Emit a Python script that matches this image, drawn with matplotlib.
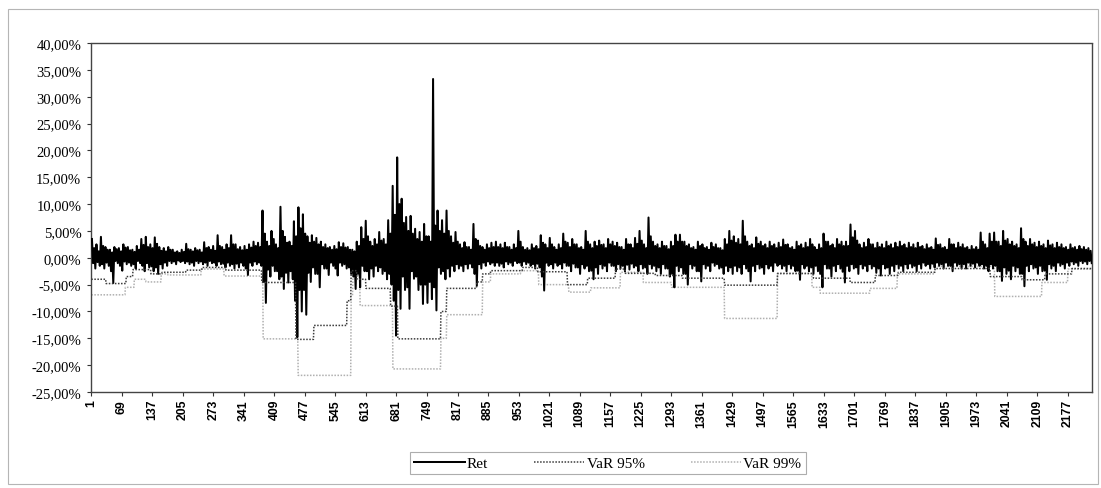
import matplotlib.pyplot as plt
import numpy as np
from matplotlib.patches import Rectangle

plt.rcParams['font.family'] = ['Liberation Serif', 'DejaVu Serif']

n_obs = 2230
block = 10

ret_hi = [3.5, 2.5, 3.9, 2.0, 1.5, 2.0, 1.8, 2.5, 2.0, 1.5,
          2.2, 3.5, 3.9, 2.5, 3.8, 2.0, 1.8, 2.0, 1.5, 1.2,
          1.5, 2.6, 1.5, 1.8, 1.5, 2.9, 2.0, 2.2, 4.2, 2.0,
          2.5, 4.2, 2.5, 2.0, 2.2, 2.5, 3.0, 2.8, 8.8, 3.0,
          5.0, 2.5, 9.5, 3.9, 3.0, 6.8, 9.4, 8.1, 4.0, 4.2,
          3.7, 3.0, 2.5, 2.0, 2.2, 2.9, 2.7, 2.0, 1.5, 3.0,
          5.7, 6.9, 3.0, 3.5, 4.8, 3.5, 7.0, 13.4, 18.7, 11.0,
          7.6, 7.8, 5.4, 4.8, 6.3, 4.0, 33.3, 8.8, 7.0, 8.8,
          4.0, 4.8, 2.5, 2.9, 2.0, 6.3, 3.2, 2.0, 2.5, 2.8,
          3.0, 2.5, 2.8, 2.0, 2.5, 5.0, 2.0, 1.8, 2.5, 2.2,
          4.2, 2.5, 3.7, 2.0, 2.5, 4.5, 2.8, 3.5, 2.5, 2.0,
          5.0, 2.5, 3.0, 3.2, 2.5, 3.5, 3.0, 2.8, 2.0, 3.5,
          2.5, 3.7, 5.0, 2.5, 7.5, 3.0, 2.5, 3.0, 2.2, 3.0,
          4.3, 4.3, 3.0, 2.5, 2.0, 3.0, 2.5, 2.0, 2.8, 2.5,
          1.8, 3.5, 5.0, 4.0, 3.5, 6.9, 3.0, 2.5, 3.8, 3.0,
          2.5, 3.0, 2.5, 2.8, 3.4, 2.5, 2.0, 3.0, 2.5, 2.8,
          3.5, 2.0, 2.5, 4.5, 3.0, 2.5, 3.5, 3.0, 3.0, 6.2,
          5.0, 2.5, 2.8, 3.5, 2.5, 2.8, 2.5, 3.0, 2.5, 2.8,
          3.0, 2.5, 2.8, 2.5, 2.8, 2.2, 2.5, 2.0, 3.6, 2.5,
          2.0, 3.5, 2.5, 2.8, 2.5, 2.0, 2.2, 2.0, 4.7, 2.5,
          4.5, 4.7, 3.0, 5.0, 3.5, 3.0, 2.5, 5.5, 3.0, 3.5,
          2.8, 3.0, 2.5, 3.2, 2.5, 2.8, 2.5, 2.0, 2.5, 2.0,
          2.2, 2.0, 1.8]
ret_lo = [-2.0, -1.5, -2.0, -1.5, -4.7, -1.0, -2.4, -1.2, -1.5, -2.0,
          -1.0, -2.5, -1.8, -2.5, -3.0, -2.0, -1.5, -1.0, -1.2, -0.8,
          -1.0, -1.2, -1.5, -1.0, -1.2, -1.5, -1.0, -1.5, -1.2, -1.8,
          -1.5, -2.0, -1.8, -1.5, -3.2, -1.5, -1.2, -1.5, -8.4, -3.5,
          -2.5, -4.0, -5.8, -4.6, -4.0, -14.8, -10.0, -10.6, -4.5, -3.0,
          -5.5, -2.0, -3.2, -1.5, -3.3, -1.5, -2.0, -3.0, -5.8, -5.5,
          -2.5, -4.0, -3.5, -2.5, -3.0, -4.0, -5.0, -14.5, -9.5, -6.0,
          -9.5, -3.9, -6.0, -8.6, -8.4, -7.7, -9.8, -3.0, -4.0, -3.5,
          -2.5, -2.0, -2.5, -2.0, -1.8, -5.2, -2.0, -1.5, -1.2, -1.5,
          -1.5, -1.8, -1.2, -1.5, -1.0, -1.5, -1.2, -1.5, -2.0, -1.8,
          -6.1, -1.5, -2.0, -1.5, -2.0, -1.5, -2.5, -1.8, -3.0, -2.0,
          -2.5, -4.0, -3.0, -2.0, -2.5, -1.5, -2.5, -2.0, -2.5, -2.2,
          -1.8, -2.5, -2.0, -3.0, -2.0, -2.5, -3.0, -2.0, -3.5, -5.5,
          -2.5, -3.0, -5.0, -2.0, -2.5, -4.4, -2.0, -2.5, -1.5, -2.0,
          -3.0, -2.5, -3.0, -2.5, -3.0, -2.0, -4.4, -2.5, -2.0, -3.0,
          -2.0, -2.5, -1.5, -2.0, -2.5, -2.0, -2.5, -4.1, -2.0, -2.5,
          -3.0, -2.5, -5.5, -2.0, -3.5, -2.5, -2.0, -4.6, -2.5, -2.0,
          -3.0, -2.0, -2.5, -2.0, -2.8, -3.3, -2.0, -3.0, -2.5, -2.0,
          -2.5, -2.0, -1.8, -2.5, -2.0, -1.5, -2.0, -1.8, -1.5, -2.0,
          -1.5, -2.5, -1.5, -2.0, -2.0, -1.5, -1.8, -1.5, -2.0, -2.5,
          -2.0, -2.5, -4.3, -3.0, -4.0, -2.5, -3.0, -5.3, -2.5, -2.0,
          -3.0, -2.5, -4.1, -2.0, -2.5, -1.5, -2.0, -1.5, -1.2, -1.5,
          -1.0, -1.2, -1.0]
# oscilação típica (núcleo da faixa) em cada bloco (%)
core_hi = [1.8, 1.2, 2.2, 1.5, 1.0, 1.6, 1.2, 1.9, 1.4, 1.1,
           1.5, 2.4, 2.0, 1.8, 2.6, 1.3, 1.2, 1.5, 1.0, 0.9,
           1.1, 1.6, 1.2, 1.4, 1.0, 1.8, 1.5, 1.3, 2.2, 1.5,
           1.8, 2.5, 1.6, 1.4, 1.5, 1.9, 2.2, 2.0, 4.5, 2.2,
           3.5, 1.8, 5.0, 2.8, 2.2, 4.0, 5.5, 4.5, 2.8, 3.0,
           2.5, 2.0, 1.8, 1.5, 1.6, 2.0, 1.9, 1.5, 1.2, 2.2,
           3.5, 4.0, 2.2, 2.5, 3.2, 2.5, 4.5, 8.0, 10.0, 6.5,
           5.0, 4.5, 3.5, 3.0, 4.0, 3.0, 6.0, 5.0, 4.5, 5.0,
           2.8, 3.0, 1.8, 2.0, 1.5, 3.5, 2.2, 1.5, 1.8, 2.0,
           2.0, 1.8, 2.0, 1.5, 1.8, 3.0, 1.5, 1.4, 1.8, 1.6,
           2.8, 1.8, 2.5, 1.5, 1.8, 3.0, 2.0, 2.5, 1.8, 1.5,
           3.0, 1.8, 2.2, 2.4, 1.8, 2.5, 2.2, 2.0, 1.5, 2.5,
           1.8, 2.6, 3.2, 1.8, 4.0, 2.2, 1.8, 2.2, 1.6, 2.2,
           3.0, 3.0, 2.2, 1.8, 1.5, 2.2, 1.8, 1.5, 2.0, 1.8,
           1.4, 2.5, 3.2, 2.8, 2.5, 4.0, 2.2, 1.8, 2.6, 2.2,
           1.8, 2.2, 1.8, 2.0, 2.4, 1.8, 1.5, 2.2, 1.8, 2.0,
           2.5, 1.5, 1.8, 3.0, 2.2, 1.8, 2.5, 2.2, 2.2, 3.8,
           3.2, 1.8, 2.0, 2.5, 1.8, 2.0, 1.8, 2.2, 1.8, 2.0,
           2.2, 1.8, 2.0, 1.8, 2.0, 1.6, 1.8, 1.5, 2.4, 1.8,
           1.5, 2.5, 1.8, 2.0, 1.8, 1.5, 1.6, 1.5, 3.0, 1.8,
           3.0, 3.0, 2.2, 3.2, 2.5, 2.2, 1.8, 3.5, 2.2, 2.5,
           2.0, 2.2, 1.8, 2.3, 1.8, 2.0, 1.8, 1.5, 1.8, 1.5,
           1.6, 1.5, 1.3]
core_lo = [-1.0, -0.8, -1.2, -0.9, -2.5, -0.6, -1.5, -0.7, -0.9, -1.2,
           -0.6, -1.5, -1.0, -1.6, -1.8, -1.2, -0.9, -0.6, -0.7, -0.5,
           -0.6, -0.7, -0.9, -0.6, -0.7, -0.9, -0.6, -0.9, -0.7, -1.1,
           -0.9, -1.2, -1.1, -0.9, -2.0, -0.9, -0.7, -0.9, -4.5, -2.2,
           -1.5, -2.5, -3.5, -2.8, -2.5, -8.0, -6.0, -6.0, -2.8, -1.8,
           -3.0, -1.2, -2.0, -0.9, -2.0, -0.9, -1.2, -1.8, -3.5, -3.0,
           -1.5, -2.5, -2.0, -1.5, -1.8, -2.5, -3.0, -8.0, -6.0, -3.5,
           -5.5, -2.5, -3.5, -5.0, -5.0, -4.5, -5.5, -1.8, -2.5, -2.0,
           -1.5, -1.2, -1.5, -1.2, -1.1, -3.0, -1.2, -0.9, -0.7, -0.9,
           -0.9, -1.1, -0.7, -0.9, -0.6, -0.9, -0.7, -0.9, -1.2, -1.1,
           -3.5, -0.9, -1.2, -0.9, -1.2, -0.9, -1.5, -1.1, -1.8, -1.2,
           -1.5, -2.4, -1.8, -1.2, -1.5, -0.9, -1.5, -1.2, -1.5, -1.3,
           -1.1, -1.5, -1.2, -1.8, -1.2, -1.5, -1.8, -1.2, -2.0, -3.0,
           -1.5, -1.8, -3.0, -1.2, -1.5, -2.5, -1.2, -1.5, -0.9, -1.2,
           -1.8, -1.5, -1.8, -1.5, -1.8, -1.2, -2.5, -1.5, -1.2, -1.8,
           -1.2, -1.5, -0.9, -1.2, -1.5, -1.2, -1.5, -2.4, -1.2, -1.5,
           -1.8, -1.5, -3.0, -1.2, -2.0, -1.5, -1.2, -2.6, -1.5, -1.2,
           -1.8, -1.2, -1.5, -1.2, -1.6, -2.0, -1.2, -1.8, -1.5, -1.2,
           -1.5, -1.2, -1.1, -1.5, -1.2, -0.9, -1.2, -1.1, -0.9, -1.2,
           -0.9, -1.5, -0.9, -1.2, -1.2, -0.9, -1.1, -0.9, -1.2, -1.5,
           -1.2, -1.5, -2.5, -1.8, -2.4, -1.5, -1.8, -3.0, -1.5, -1.2,
           -1.8, -1.5, -2.4, -1.2, -1.5, -0.9, -1.2, -0.9, -0.7, -0.9,
           -0.6, -0.7, -0.6]

# VaR: observação onde começa cada patamar e o nível (%)
var95_start = [1, 34, 79, 94, 134, 159, 212, 248, 301, 381, 457, 497, 571, 580,
               593, 613, 668, 684, 780, 793, 860, 873, 891, 962, 996, 1062,
               1107, 1169, 1191, 1258, 1318, 1412, 1530, 1610, 1692, 1748,
               1799, 1881, 2004, 2075, 2126, 2186]
var95_level = [-4.0, -4.8, -3.5, -2.2, -3.0, -2.7, -2.3, -1.8, -2.3, -4.6, -15.2,
               -12.6, -8.0, -2.4, -4.0, -5.7, -9.0, -15.1, -10.0, -5.7, -4.5,
               -3.0, -2.4, -1.8, -2.6, -5.0, -3.8, -2.1, -2.9, -3.3, -3.8,
               -5.1, -2.9, -3.8, -4.6, -3.3, -2.7, -2.0, -3.5, -4.1, -3.0, -2.0]
var99_start = [1, 77, 97, 123, 157, 172, 246, 297, 384, 462, 580, 584, 600, 673,
               780, 793, 873, 891, 958, 998, 1065, 1114, 1180, 1231, 1294, 1412,
               1530, 1607, 1625, 1736, 1797, 1881, 2014, 2119, 2177]
var99_level = [-6.9, -5.5, -4.0, -4.5, -3.0, -3.2, -2.1, -3.4, -15.1, -21.9,
               -7.0, -3.3, -8.9, -20.7, -15.0, -10.6, -4.5, -3.0, -2.4, -5.0,
               -6.4, -5.6, -2.7, -4.6, -5.5, -11.3, -3.0, -5.5, -6.6, -5.7,
               -3.0, -1.6, -7.2, -4.6, -2.1]

xtick_labels = list(range(1, 2178, 68))
ytick_values = list(range(-25, 41, 5))


def steps(starts, levels):
    lengths = np.diff(starts + [n_obs + 1])
    return np.repeat(levels, lengths) / 100


obs = np.arange(1, n_obs + 1)
var95 = steps(var95_start, var95_level)
var99 = steps(var99_start, var99_level)

# cada bloco: máximo, núcleo baixo, núcleo alto, mínimo
starts = np.arange(len(ret_hi)) * block + 1
ret_x = np.column_stack([starts + 1.5, starts + 4, starts + 6.5, starts + 9]).ravel()
ret_y = np.column_stack([ret_hi, core_lo, core_hi, ret_lo]).ravel() / 100

fig = plt.figure(figsize=(11.01, 4.89), dpi=100)
ax = fig.add_axes([0.0827, 0.1963, 0.9091, 0.7137])

ax.plot(ret_x, ret_y, color='black', lw=1.45, label='Ret', zorder=3)
ax.plot(obs, var95, color='#3c3c3c', lw=1.1, ls=(0, (1, 1)), label='VaR 95%', zorder=4)
ax.plot(obs, var99, color='#b0b0b0', lw=1.1, ls=(0, (1, 1)), label='VaR 99%', zorder=2)

ax.set_xlim(0.5, n_obs + 0.5)
ax.set_ylim(-0.25, 0.40)
ax.set_yticks([v / 100 for v in ytick_values])
ax.set_yticklabels(['%d,00%%' % v for v in ytick_values], fontsize=10.5)
ax.set_xticks(xtick_labels)
ax.set_xticklabels([str(v) for v in xtick_labels], rotation=90, fontsize=8.8,
                   fontweight='bold', family=['Liberation Sans', 'DejaVu Sans'])
ax.tick_params(axis='both', length=3, width=0.8, color='#333333')
ax.tick_params(axis='y', pad=4)
ax.tick_params(axis='x', pad=2)

for s in ax.spines.values():
    s.set_color('#444444')
    s.set_linewidth(1.0)
    s.set_linestyle((0, (1, 1)))

# borda da área do gráfico
fig.patches.append(Rectangle((0.007, 0.008), 0.99, 0.972, transform=fig.transFigure,
                             fill=False, edgecolor='#b5b5b5', lw=0.8))

leg = fig.legend(loc='center', bbox_to_anchor=(0.552, 0.051), ncol=3, fontsize=11,
                 handlelength=3.3, handletextpad=0.15, columnspacing=3.0,
                 frameon=True, fancybox=False, borderpad=0.3)
leg.get_frame().set_edgecolor('#999999')
leg.get_frame().set_linewidth(0.8)

plt.savefig('out.png', dpi=100)
